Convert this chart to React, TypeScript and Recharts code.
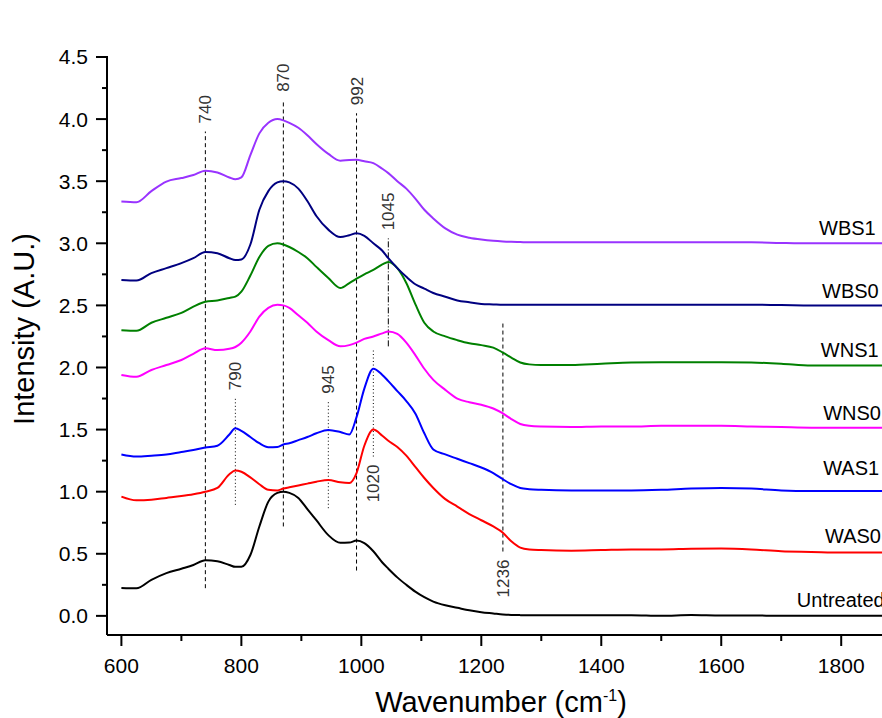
import React from 'react';
import { LineChart, Line, XAxis, YAxis, ReferenceLine, ReferenceDot } from 'recharts';

const FONT = '"Liberation Sans", Arial, sans-serif';

const wavenumbers = [600, 625, 650, 675, 700, 720, 740, 760, 780, 790, 800, 815, 830, 845, 860, 870, 880, 895, 910, 925, 945, 965, 980, 992, 1005, 1020, 1035, 1045, 1060, 1075, 1090, 1105, 1120, 1140, 1160, 1180, 1200, 1220, 1236, 1250, 1265, 1280, 1300, 1350, 1400, 1450, 1500, 1550, 1600, 1650, 1700, 1750, 1800, 1870];

const untreated = [0.225, 0.222, 0.29, 0.344, 0.38, 0.41, 0.448, 0.44, 0.41, 0.395, 0.395, 0.49, 0.72, 0.92, 0.99, 1.0, 0.99, 0.95, 0.86, 0.77, 0.65, 0.588, 0.59, 0.606, 0.585, 0.52, 0.43, 0.38, 0.31, 0.25, 0.195, 0.15, 0.115, 0.085, 0.065, 0.045, 0.03, 0.02, 0.012, 0.008, 0.006, 0.005, 0.005, 0.005, 0.006, 0.006, 0.0, 0.008, 0.004, 0.004, 0.0, 0.0, 0.0, 0.0];
const was0 = [0.96, 0.93, 0.935, 0.95, 0.965, 0.98, 1.0, 1.03, 1.14, 1.17, 1.16, 1.115, 1.06, 1.015, 1.01, 1.025, 1.035, 1.05, 1.065, 1.08, 1.095, 1.075, 1.07, 1.15, 1.37, 1.5, 1.45, 1.41, 1.36, 1.29, 1.2, 1.11, 1.03, 0.94, 0.88, 0.82, 0.77, 0.72, 0.67, 0.6, 0.55, 0.535, 0.53, 0.525, 0.53, 0.535, 0.535, 0.54, 0.542, 0.535, 0.52, 0.515, 0.51, 0.51];
const was1 = [1.3, 1.283, 1.29, 1.3, 1.32, 1.335, 1.355, 1.37, 1.46, 1.51, 1.49, 1.44, 1.39, 1.358, 1.36, 1.38, 1.39, 1.415, 1.44, 1.47, 1.497, 1.48, 1.46, 1.6, 1.83, 1.99, 1.94, 1.89, 1.81, 1.73, 1.63, 1.47, 1.34, 1.3, 1.265, 1.23, 1.195, 1.15, 1.1, 1.06, 1.03, 1.02, 1.015, 1.01, 1.01, 1.01, 1.015, 1.025, 1.03, 1.025, 1.01, 1.005, 1.005, 1.005];
const wns0 = [1.94, 1.925, 1.98, 2.02, 2.06, 2.11, 2.155, 2.14, 2.15, 2.165, 2.2, 2.29, 2.41, 2.48, 2.505, 2.5, 2.48, 2.42, 2.36, 2.29, 2.22, 2.17, 2.18, 2.2, 2.23, 2.25, 2.275, 2.29, 2.27, 2.2, 2.1, 1.99, 1.9, 1.82, 1.75, 1.72, 1.7, 1.67, 1.63, 1.585, 1.545, 1.53, 1.524, 1.52, 1.525, 1.525, 1.53, 1.53, 1.53, 1.525, 1.52, 1.515, 1.515, 1.515];
const wns1 = [2.3, 2.295, 2.36, 2.4, 2.44, 2.49, 2.53, 2.54, 2.56, 2.57, 2.61, 2.74, 2.89, 2.98, 3.0, 2.99, 2.97, 2.93, 2.88, 2.81, 2.72, 2.64, 2.68, 2.715, 2.75, 2.785, 2.83, 2.85, 2.8, 2.68, 2.51, 2.36, 2.29, 2.25, 2.22, 2.195, 2.18, 2.16, 2.12, 2.08, 2.04, 2.025, 2.02, 2.02, 2.03, 2.04, 2.043, 2.043, 2.043, 2.04, 2.03, 2.015, 2.015, 2.015];
const wbs0 = [2.705, 2.7, 2.76, 2.8, 2.84, 2.88, 2.93, 2.92, 2.88, 2.865, 2.87, 2.99, 3.27, 3.42, 3.49, 3.5, 3.49, 3.44, 3.34, 3.22, 3.11, 3.05, 3.065, 3.08, 3.06, 3.0, 2.94, 2.88, 2.8, 2.73, 2.67, 2.635, 2.6, 2.57, 2.54, 2.525, 2.512, 2.508, 2.505, 2.505, 2.505, 2.505, 2.505, 2.505, 2.505, 2.505, 2.505, 2.505, 2.505, 2.505, 2.503, 2.5, 2.5, 2.5];
const wbs1 = [3.336, 3.33, 3.42, 3.497, 3.525, 3.55, 3.585, 3.57, 3.53, 3.515, 3.53, 3.71, 3.885, 3.97, 4.0, 3.99, 3.97, 3.93, 3.87, 3.8, 3.72, 3.665, 3.67, 3.672, 3.66, 3.645, 3.6, 3.565, 3.5, 3.44, 3.36, 3.27, 3.2, 3.12, 3.07, 3.045, 3.03, 3.02, 3.015, 3.012, 3.01, 3.008, 3.008, 3.008, 3.008, 3.008, 3.008, 3.008, 3.008, 3.008, 3.003, 3.0, 3.0, 3.0];

const seriesKeys = ['untreated', 'was0', 'was1', 'wns0', 'wns1', 'wbs0', 'wbs1'];
const seriesColors = ['#000000', '#FF0000', '#0000FF', '#FF00FF', '#008000', '#000080', '#9933FF'];

const data = wavenumbers.map((w, i) => ({
  w,
  untreated: untreated[i],
  was0: was0[i],
  was1: was1[i],
  wns0: wns0[i],
  wns1: wns1[i],
  wbs0: wbs0[i],
  wbs1: wbs1[i],
}));

// curve name annotations
const curveNames = ['WBS1', 'WBS0', 'WNS1', 'WNS0', 'WAS1', 'WAS0', 'Untreated'];
const curveNameX = [1763, 1768, 1766, 1770, 1770, 1773, 1726];
const curveNameY = [3.068, 2.56, 2.085, 1.578, 1.135, 0.588, 0.072];

// peak marker lines
const markerValues = [740, 870, 992, 1045, 790, 945, 1020, 1236];
const markerBottom = [0.223, 0.72, 0.365, 2.17, 0.894, 0.867, 1.283, 0.518];
const markerTop = [3.9, 4.155, 4.047, 3.04, 1.753, 1.725, 2.14, 2.36];
const markerKind = ['dash', 'dash', 'dash', 'dashdot', 'dot', 'dot', 'dot', 'dash'];
const markerLabelSide = ['above', 'above', 'above', 'above', 'above', 'above', 'below', 'below'];
const dashMap: Record<string, string> = { dash: '4 3', dot: '1 2.5', dashdot: '6 2 1 2' };

const xTicks = [600, 700, 800, 900, 1000, 1100, 1200, 1300, 1400, 1500, 1600, 1700, 1800];
const yTicks = [0, 0.25, 0.5, 0.75, 1, 1.25, 1.5, 1.75, 2, 2.25, 2.5, 2.75, 3, 3.25, 3.5, 3.75, 4, 4.25, 4.5];

const XTick = (props: any) => {
  const { x, y, payload } = props;
  const v = payload.value;
  const major = v % 200 === 0;
  return (
    <g>
      <line x1={x} x2={x} y1={y} y2={y + (major ? 11 : 6)} stroke="#000" strokeWidth={2} />
      {major && (
        <text x={x} y={y + 38} textAnchor="middle" fontSize={21} fill="#000" fontFamily={FONT}>
          {v}
        </text>
      )}
    </g>
  );
};

const YTick = (props: any) => {
  const { x, y, payload } = props;
  const v = payload.value;
  const major = Math.abs(v * 2 - Math.round(v * 2)) < 1e-6;
  return (
    <g>
      <line x1={x - (major ? 11 : 5)} x2={x} y1={y} y2={y} stroke="#000" strokeWidth={2} />
      {major && (
        <text x={x - 19} y={y + 7.5} textAnchor="end" fontSize={21} fill="#000" fontFamily={FONT}>
          {v.toFixed(1)}
        </text>
      )}
    </g>
  );
};

const markerLabel = (text: string, side: string) => (p: any) => {
  const vb = p.viewBox || {};
  const x = vb.x ?? 0;
  const y = side === 'above' ? (vb.y ?? 0) - 8 : (vb.y ?? 0) + (vb.height ?? 0) + 8;
  return (
    <text
      x={x}
      y={y}
      dy="0.36em"
      transform={`rotate(-90 ${x} ${y})`}
      textAnchor={side === 'above' ? 'start' : 'end'}
      fontSize={17}
      fill="#333"
      fontFamily={FONT}
    >
      {text}
    </text>
  );
};

const nameLabel = (text: string) => (p: any) => {
  const vb = p.viewBox || {};
  return (
    <text x={vb.x} y={vb.y} textAnchor="start" fontSize={20} fill="#000" fontFamily={FONT}>
      {text}
    </text>
  );
};

export default function App() {
  return (
    <div style={{ position: 'absolute', left: 0, top: 0, width: 882, height: 718, background: '#fff' }}>
      <LineChart
        width={882}
        height={718}
        data={data}
        margin={{ top: 56, right: 0, bottom: 33, left: 47 }}
        style={{ fontFamily: FONT }}
      >
        <XAxis
          xAxisId="top"
          orientation="top"
          type="number"
          dataKey="w"
          domain={[576, 1868]}
          allowDataOverflow
          height={0}
          tick={false}
          tickLine={false}
          axisLine={{ stroke: '#000', strokeWidth: 2 }}
          label={() => (
            <text x={496} y={35} textAnchor="middle" fontSize={28} fill="#000" fontFamily={FONT}>
              S53P4
            </text>
          )}
        />
        <XAxis
          type="number"
          dataKey="w"
          domain={[576, 1868]}
          allowDataOverflow
          ticks={xTicks}
          interval={0}
          tickSize={0}
          tickMargin={0}
          tickLine={false}
          tick={<XTick />}
          height={50}
          axisLine={{ stroke: '#000', strokeWidth: 2 }}
          label={() => (
            <text x={501} y={712} textAnchor="middle" fontSize={29} fill="#000" fontFamily={FONT}>
              Wavenumber (cm
              <tspan dy={-11} fontSize={16}>-1</tspan>
              <tspan dy={11}>)</tspan>
            </text>
          )}
        />
        <YAxis
          type="number"
          domain={[-0.154, 4.508]}
          allowDataOverflow
          ticks={yTicks}
          interval={0}
          tickSize={0}
          tickMargin={0}
          tickLine={false}
          tick={<YTick />}
          width={60}
          axisLine={{ stroke: '#000', strokeWidth: 2 }}
          label={() => (
            <text
              x={34}
              y={329}
              transform="rotate(-90 34 329)"
              textAnchor="middle"
              fontSize={29}
              fill="#000"
              fontFamily={FONT}
            >
              Intensity (A.U.)
            </text>
          )}
        />
        {markerValues.map((v, i) => (
          <ReferenceLine
            key={'m' + v}
            segment={[
              { x: v, y: markerBottom[i] },
              { x: v, y: markerTop[i] },
            ]}
            stroke="#000"
            strokeWidth={1}
            strokeDasharray={dashMap[markerKind[i]]}
            label={markerLabel(String(v), markerLabelSide[i])}
          />
        ))}
        {seriesKeys.map((k, i) => (
          <Line
            key={k}
            dataKey={k}
            type="monotone"
            stroke={seriesColors[i]}
            strokeWidth={2}
            dot={false}
            activeDot={false}
            isAnimationActive={false}
          />
        ))}
        {curveNames.map((n, i) => (
          <ReferenceDot
            key={'n' + n}
            x={curveNameX[i]}
            y={curveNameY[i]}
            r={0}
            fill="none"
            stroke="none"
            label={nameLabel(n)}
          />
        ))}
      </LineChart>
    </div>
  );
}
